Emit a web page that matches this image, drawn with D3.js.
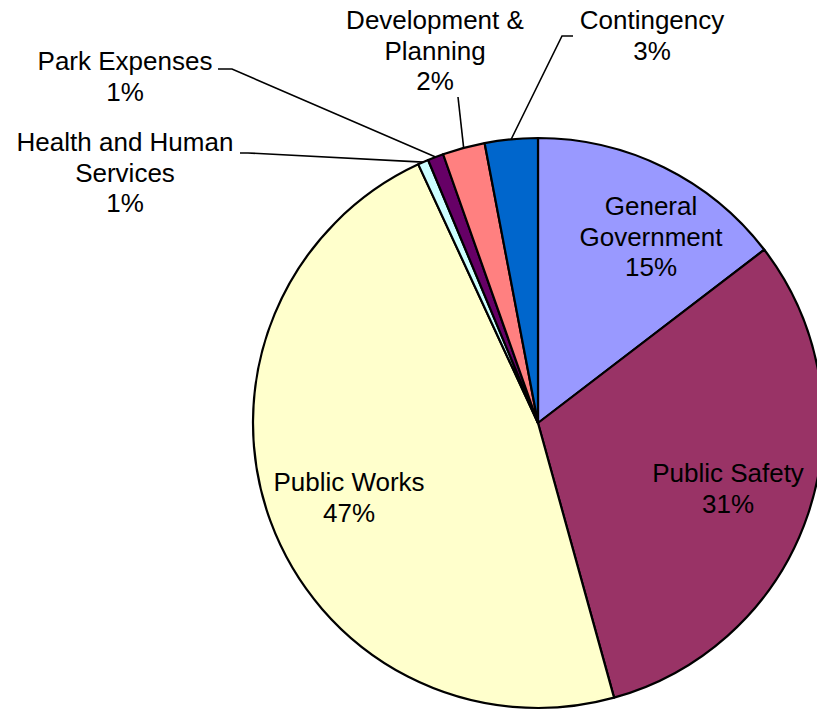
<!DOCTYPE html>
<html>
<head>
<meta charset="utf-8">
<script src="https://cdn.jsdelivr.net/npm/d3@7"></script>
<style>
  html, body { margin: 0; padding: 0; background: #fff; }
  svg { display: block; }
  text { font-family: "Liberation Sans", Arial, sans-serif; fill: #000; }
</style>
</head>
<body>
<svg id="chart" width="817" height="713"></svg>
<script>
// Budget share by department (percent of total)
const categories = [
  "General Government",
  "Public Safety",
  "Public Works",
  "Health and Human Services",
  "Park Expenses",
  "Development & Planning",
  "Contingency"
];
const values = [14.6, 31.1, 47.4, 0.6, 0.9, 2.4, 3.0];
const colors = ["#9999FF", "#993366", "#FFFFCC", "#CCFFFF", "#660066", "#FF8080", "#0066CC"];

// How each category name wraps in its label
const labelLines = [
  ["General", "Government"],
  ["Public Safety"],
  ["Public Works"],
  ["Health and Human", "Services"],
  ["Park Expenses"],
  ["Development &", "Planning"],
  ["Contingency"]
];

// Label placement: centre x, first baseline y, and leader line (null = label inside slice)
const labelLayout = [
  { x: 651, y: 215, leader: null },
  { x: 728, y: 482, leader: null },
  { x: 349, y: 491, leader: null },
  { x: 125, y: 151, leader: [[240, 153], [248, 153]] },
  { x: 125, y: 70,  leader: [[218, 69], [232, 69]] },
  { x: 435, y: 29,  leader: [[458, 97]] },
  { x: 652, y: 29,  leader: [[573, 36], [562, 36]] }
];

const lineGap = 30.6;
const cx = 538, cy = 423, radius = 285;

const svg = d3.select("#chart");
const g = svg.append("g").attr("transform", `translate(${cx},${cy})`);

const data = categories.map((c, i) => ({ name: c, value: values[i], color: colors[i], i }));

const pie = d3.pie().value(d => d.value).sort(null).startAngle(0).endAngle(2 * Math.PI);
const arc = d3.arc().innerRadius(0).outerRadius(radius);
const arcs = pie(data);

g.selectAll("path.slice")
  .data(arcs)
  .join("path")
  .attr("class", "slice")
  .attr("d", arc)
  .attr("fill", d => d.data.color)
  .attr("stroke", "#000")
  .attr("stroke-width", 2.2)
  .attr("stroke-linejoin", "round");

// Leader lines from outside labels to the middle of each slice's rim
const rimPoint = d => {
  const a = (d.startAngle + d.endAngle) / 2;
  return [cx + radius * Math.sin(a), cy - radius * Math.cos(a)];
};

svg.selectAll("path.leader")
  .data(arcs.filter(d => labelLayout[d.data.i].leader))
  .join("path")
  .attr("class", "leader")
  .attr("fill", "none")
  .attr("stroke", "#000")
  .attr("stroke-width", 1.6)
  .attr("d", d => d3.line()(labelLayout[d.data.i].leader.concat([rimPoint(d)])));

// Labels: name lines plus rounded percentage
const pct = d3.format(".0f");
arcs.forEach(d => {
  const lay = labelLayout[d.data.i];
  const lines = labelLines[d.data.i].concat([pct(d.data.value) + "%"]);
  const t = svg.append("text")
    .attr("text-anchor", "middle")
    .attr("font-size", "26px");
  lines.forEach((ln, k) => {
    t.append("tspan")
      .attr("x", lay.x)
      .attr("y", lay.y + k * lineGap)
      .text(ln);
  });
});
</script>
</body>
</html>
